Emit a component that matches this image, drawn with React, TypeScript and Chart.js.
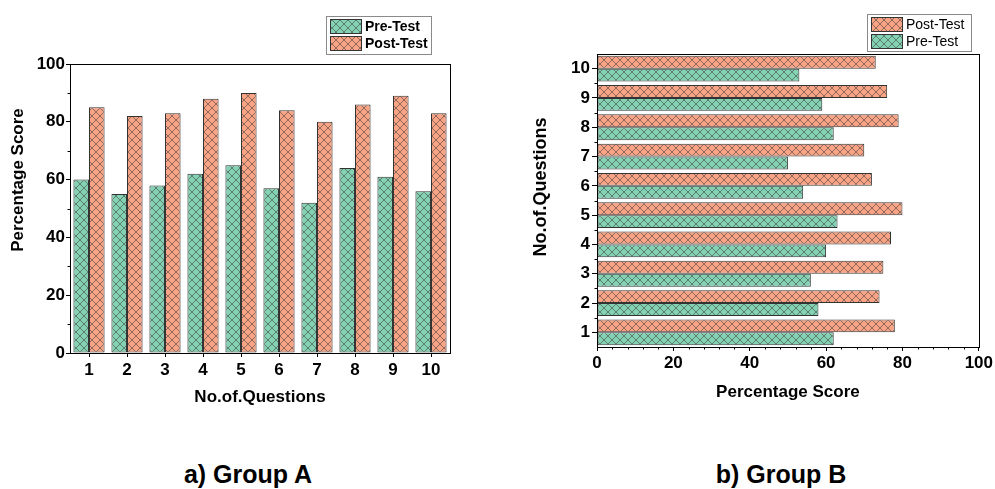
import React, { useEffect, useRef } from "react";
import { Chart, registerables } from "chart.js";

Chart.register(...registerables);

// ---- data ----
const questions = ["1", "2", "3", "4", "5", "6", "7", "8", "9", "10"];
const groupAPre = [60, 55, 58, 62, 65, 57, 52, 64, 61, 56];
const groupAPost = [85, 82, 83, 88, 90, 84, 80, 86, 89, 83];
const groupBPre = [62, 58, 56, 60, 63, 54, 50, 62, 59, 53];
const groupBPost = [78, 74, 75, 77, 80, 72, 70, 79, 76, 73];
const preLabel = "Pre-Test";
const postLabel = "Post-Test";
const scoreTitle = "Percentage Score";
const questionTitle = "No.of.Questions";
const captionA = "a) Group A";
const captionB = "b) Group B";
const leftMinorTicks = [10, 30, 50, 70, 90];
const rightMinorTicks = [4, 8, 12, 16, 24, 28, 32, 36, 44, 48, 52, 56, 64, 68, 72, 76, 84, 88, 92, 96];

const FONT = '"Liberation Sans", Arial, sans-serif';
const GREEN = "#84d1b3";
const ORANGE = "#f7a385";

function hatch(color: string) {
  const c = document.createElement("canvas");
  c.width = 8;
  c.height = 8;
  const g = c.getContext("2d")!;
  g.fillStyle = color;
  g.fillRect(0, 0, 8, 8);
  g.strokeStyle = "rgba(45,45,45,0.5)";
  g.lineWidth = 1;
  g.beginPath();
  g.moveTo(0, 0);
  g.lineTo(8, 8);
  g.moveTo(8, 0);
  g.lineTo(0, 8);
  g.stroke();
  return g.createPattern(c, "repeat")!;
}

function makeDeco(cfg: any) {
  return {
    id: "deco",
    afterDraw(chart: any) {
      const ctx = chart.ctx;
      const a = chart.chartArea;
      ctx.save();
      // frame
      ctx.strokeStyle = "#000";
      ctx.lineWidth = 1;
      ctx.strokeRect(Math.round(a.left) + 0.5, Math.round(a.top) + 0.5, Math.round(a.right - a.left), Math.round(a.bottom - a.top));
      // minor ticks on value axis
      const vs = chart.scales[cfg.minorAxis];
      ctx.beginPath();
      cfg.minorValues.forEach((v: number) => {
        const p = Math.round(vs.getPixelForValue(v)) + 0.5;
        if (cfg.minorAxis === "y") {
          ctx.moveTo(a.left, p);
          ctx.lineTo(a.left - 2.5, p);
        } else {
          ctx.moveTo(p, a.bottom);
          ctx.lineTo(p, a.bottom + 2.5);
        }
      });
      // category edges
      if (cfg.catEdges) {
        const cs = chart.scales.y;
        const n = cs.getLabels().length;
        for (let i = 0; i < n - 1; i++) {
          const p = Math.round((cs.getPixelForValue(i) + cs.getPixelForValue(i + 1)) / 2) + 0.5;
          ctx.moveTo(a.left, p);
          ctx.lineTo(a.left - 2.5, p);
        }
      }
      ctx.stroke();
      // y title
      const t = cfg.yTitle;
      ctx.translate(t.x, t.y);
      ctx.rotate(-Math.PI / 2);
      ctx.fillStyle = "#000";
      ctx.font = `bold ${t.size}px ${FONT}`;
      ctx.textAlign = "center";
      ctx.textBaseline = "middle";
      ctx.fillText(t.text, 0, 0);
      ctx.setTransform(1, 0, 0, 1, 0, 0);
      // legend
      const L = cfg.legend;
      ctx.fillStyle = "#fff";
      ctx.fillRect(L.x, L.y, L.w, L.h);
      ctx.strokeStyle = "#8a8a8a";
      ctx.strokeRect(L.x + 0.5, L.y + 0.5, L.w, L.h);
      L.items.forEach((it: any, i: number) => {
        const sy = L.y + 3 + i * 17;
        ctx.fillStyle = it.fill;
        ctx.fillRect(L.x + 4, sy, 31, 14);
        ctx.strokeStyle = "#333";
        ctx.strokeRect(L.x + 4.5, sy + 0.5, 31, 14);
        ctx.fillStyle = "#000";
        ctx.font = `${L.bold ? "bold " : ""}14px ${FONT}`;
        ctx.textAlign = "left";
        ctx.textBaseline = "middle";
        ctx.fillText(it.label, L.x + 39, sy + 8);
      });
      ctx.restore();
    },
  };
}

const tickFont = { family: FONT, size: 17, weight: "bold" as const };

export default function App() {
  const leftRef = useRef<HTMLCanvasElement>(null);
  const rightRef = useRef<HTMLCanvasElement>(null);

  useEffect(() => {
    Chart.defaults.color = "#000";
    Chart.defaults.font.family = FONT;
    const gPat = hatch(GREEN);
    const oPat = hatch(ORANGE);

    const left = new Chart(leftRef.current!, {
      type: "bar",
      data: {
        labels: questions,
        datasets: [
          { label: preLabel, data: groupAPre, backgroundColor: gPat, borderColor: "#333", borderWidth: 1, borderSkipped: false },
          { label: postLabel, data: groupAPost, backgroundColor: oPat, borderColor: "#333", borderWidth: 1, borderSkipped: false },
        ],
      },
      options: {
        responsive: false,
        animation: false,
        categoryPercentage: 0.82,
        barPercentage: 1,
        layout: { padding: { top: 64, right: 20, left: 0, bottom: 0 } },
        plugins: { legend: { display: false }, tooltip: { enabled: false } },
        scales: {
          x: {
            grid: { display: true, drawOnChartArea: false, offset: false, tickLength: 4, color: "#000" },
            border: { display: true, color: "#000" },
            ticks: { font: tickFont, color: "#000", padding: 3, autoSkip: false, maxRotation: 0 },
            title: { display: true, text: questionTitle, font: { family: FONT, size: 17, weight: "bold" }, color: "#000", padding: { top: 0, bottom: 12 } },
            afterFit: (s: any) => { s.height = 67; },
          },
          y: {
            min: 0,
            max: 100,
            ticks: { stepSize: 20, font: tickFont, color: "#000", padding: 1 },
            grid: { display: true, drawOnChartArea: false, tickLength: 4, color: "#000" },
            border: { display: true, color: "#000" },
            afterFit: (s: any) => { s.width = 70; },
          },
        },
      },
      plugins: [
        makeDeco({
          minorAxis: "y",
          minorValues: leftMinorTicks,
          catEdges: false,
          yTitle: { text: scoreTitle, x: 18, y: 180, size: 17 },
          legend: {
            x: 326, y: 16, w: 105, h: 38, bold: true,
            items: [
              { label: preLabel, fill: gPat },
              { label: postLabel, fill: oPat },
            ],
          },
        }),
      ],
    } as any);

    const right = new Chart(rightRef.current!, {
      type: "bar",
      data: {
        labels: questions,
        datasets: [
          { label: postLabel, data: groupBPost, backgroundColor: oPat, borderColor: "#333", borderWidth: 1, borderSkipped: false },
          { label: preLabel, data: groupBPre, backgroundColor: gPat, borderColor: "#333", borderWidth: 1, borderSkipped: false },
        ],
      },
      options: {
        indexAxis: "y",
        responsive: false,
        animation: false,
        categoryPercentage: 0.88,
        barPercentage: 1,
        layout: { padding: { top: 54, right: 15, left: 0, bottom: 0 } },
        plugins: { legend: { display: false }, tooltip: { enabled: false } },
        scales: {
          x: {
            min: 0,
            max: 100,
            ticks: { stepSize: 20, font: tickFont, color: "#000", padding: 2 },
            grid: { display: true, drawOnChartArea: false, tickLength: 4, color: "#000" },
            border: { display: true, color: "#000" },
            title: { display: true, text: scoreTitle, font: { family: FONT, size: 17, weight: "bold" }, color: "#000", padding: { top: 0, bottom: 17 } },
            afterFit: (s: any) => { s.height = 73; },
          },
          y: {
            reverse: true,
            grid: { display: true, drawOnChartArea: false, offset: false, tickLength: 5, color: "#000" },
            border: { display: true, color: "#000" },
            ticks: { font: tickFont, color: "#000", padding: 2, autoSkip: false },
            afterFit: (s: any) => { s.width = 77; },
          },
        },
      },
      plugins: [
        makeDeco({
          minorAxis: "x",
          minorValues: rightMinorTicks,
          catEdges: true,
          yTitle: { text: questionTitle, x: 21, y: 187, size: 18 },
          legend: {
            x: 347, y: 14, w: 104, h: 37, bold: false,
            items: [
              { label: postLabel, fill: oPat },
              { label: preLabel, fill: gPat },
            ],
          },
        }),
      ],
    } as any);

    return () => {
      left.destroy();
      right.destroy();
    };
  }, []);

  const capStyle: React.CSSProperties = {
    position: "absolute",
    top: 460,
    transform: "translateX(-50%)",
    whiteSpace: "nowrap",
    fontFamily: FONT,
    fontWeight: "bold",
    fontSize: 25,
    lineHeight: "28px",
    color: "#000",
  };

  return (
    <div style={{ position: "fixed", left: 0, top: 0, width: 995, height: 489, background: "#fff", overflow: "hidden" }}>
      <div style={{ position: "absolute", left: 0, top: 0, width: 470, height: 420 }}>
        <canvas ref={leftRef} width={470} height={420} style={{ width: 470, height: 420, display: "block" }} />
      </div>
      <div style={{ position: "absolute", left: 520, top: 0, width: 475, height: 420 }}>
        <canvas ref={rightRef} width={475} height={420} style={{ width: 475, height: 420, display: "block" }} />
      </div>
      <div style={{ ...capStyle, left: 248 }}>{captionA}</div>
      <div style={{ ...capStyle, left: 781 }}>{captionB}</div>
    </div>
  );
}
